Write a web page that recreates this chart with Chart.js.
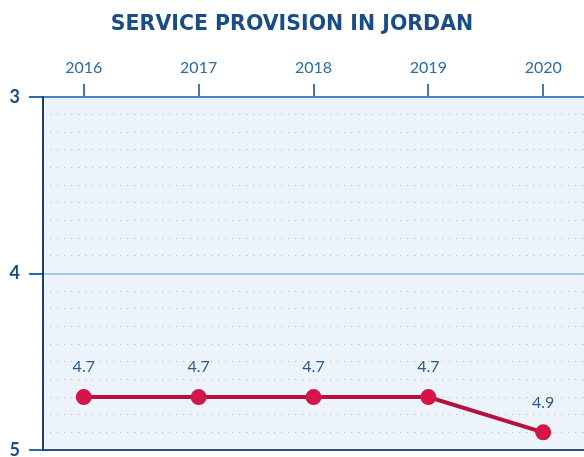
<!DOCTYPE html>
<html><head><meta charset="utf-8">
<script src="https://cdn.jsdelivr.net/npm/chart.js@4"></script>
<style>html,body{margin:0;padding:0;background:#fff;overflow:hidden}#wrap{width:584px;height:457px;position:relative}</style>
</head><body><div id="wrap"><canvas id="c" width="584" height="457"></canvas></div>
<script>
const years = [2016, 2017, 2018, 2019, 2020];
const values = [4.7, 4.7, 4.7, 4.7, 4.9];
const yTicks = [3, 4, 5];
const titleText = 'SERVICE PROVISION IN JORDAN';

function noPad(s) { s.paddingTop = 0; s.paddingBottom = 0; s.paddingLeft = 0; s.paddingRight = 0; }

const bgPlugin = {
  id: 'bg',
  beforeDraw(chart) {
    const a = chart.chartArea, ctx = chart.ctx;
    ctx.save(); ctx.fillStyle = '#edf3fb';
    ctx.fillRect(a.left, a.top, a.right - a.left, a.bottom - a.top);
    ctx.restore();
  }
};
const labelPlugin = {
  id: 'lbl',
  afterDatasetsDraw(chart) {
    const ctx = chart.ctx, meta = chart.getDatasetMeta(0);
    ctx.save();
    ctx.font = '16px Lato';
    ctx.fillStyle = '#2a5a8c';
    ctx.textAlign = 'center'; ctx.textBaseline = 'middle';
    meta.data.forEach((p, i) => {
      ctx.fillText(values[i].toFixed(1), p.x, p.y - 30);
    });
    ctx.restore();
  }
};

new Chart(document.getElementById('c'), {
  type: 'line',
  data: {
    datasets: [{
      data: years.map((y, i) => ({x: y, y: values[i]})),
      borderColor: '#b8123c',
      borderWidth: 4,
      pointBackgroundColor: '#d4154a',
      pointBorderColor: '#d4154a',
      pointRadius: 8,
      pointBorderWidth: 0,
      tension: 0
    }]
  },
  options: {
    responsive: false,
    animation: false,
    layout: {autoPadding: false, padding: {left: 0, right: 0, top: 0, bottom: 7}},
    plugins: {
      legend: {display: false},
      tooltip: {enabled: false},
      title: {
        display: true, text: titleText, color: '#1a4d88',
        font: {family: 'DejaVu Sans', size: 20.5, weight: 'bold', lineHeight: '24px'},
        padding: {top: 13, bottom: 0}
      }
    },
    scales: {
      x: {
        type: 'linear', position: 'top',
        min: 2015.645, max: 2020.355,
        afterBuildTicks(s) { s.ticks = years.map(v => ({value: v})); },
        afterFit(s) { s.height = 60; noPad(s); },
        ticks: {color: '#2c6aa6', font: {family: 'Lato', size: 16}, padding: 7,
          callback: v => String(v), maxRotation: 0, autoSkip: false},
        grid: {drawOnChartArea: false, drawTicks: true, tickLength: 13, color: '#3d7ab8', lineWidth: 2},
        border: {display: true, color: '#4a82bd', width: 2}
      },
      xb: {
        type: 'linear', position: 'bottom', min: 0, max: 1,
        afterFit(s) { s.height = 0; noPad(s); },
        ticks: {display: false},
        grid: {drawOnChartArea: false, drawTicks: false},
        border: {display: true, color: '#2d4f7c', width: 2}
      },
      y: {
        type: 'linear', position: 'left', reverse: true, min: 3, max: 5,
        afterBuildTicks(s) { s.ticks = yTicks.map(v => ({value: v})); },
        afterFit(s) { s.width = 43; noPad(s); },
        ticks: {color: '#1f4a7a', font: {family: 'Lato', size: 18, weight: 'bold'}, padding: 9},
        grid: {
          drawTicks: true, tickLength: 14, tickColor: '#2d6aa5', tickWidth: 2,
          color: c => c.tick && c.tick.value === 4 ? '#a9c9e8' : 'rgba(0,0,0,0)',
          lineWidth: 2
        },
        border: {display: true, color: '#1c3f6e', width: 2}
      },
      yMinor: {
        type: 'linear', position: 'right', reverse: true, min: 3, max: 5,
        afterFit(s) { s.width = 0; noPad(s); },
        ticks: {display: false, stepSize: 0.1},
        grid: {drawTicks: false, color: c => (c.tick && Math.abs(Math.round(c.tick.value*10) % 10) === 0) ? 'rgba(0,0,0,0)' : '#b7c4d4', lineWidth: 1},
        border: {display: false, dash: [1.3, 5.7]}
      }
    }
  },
  plugins: [bgPlugin, labelPlugin]
});
</script></body></html>
